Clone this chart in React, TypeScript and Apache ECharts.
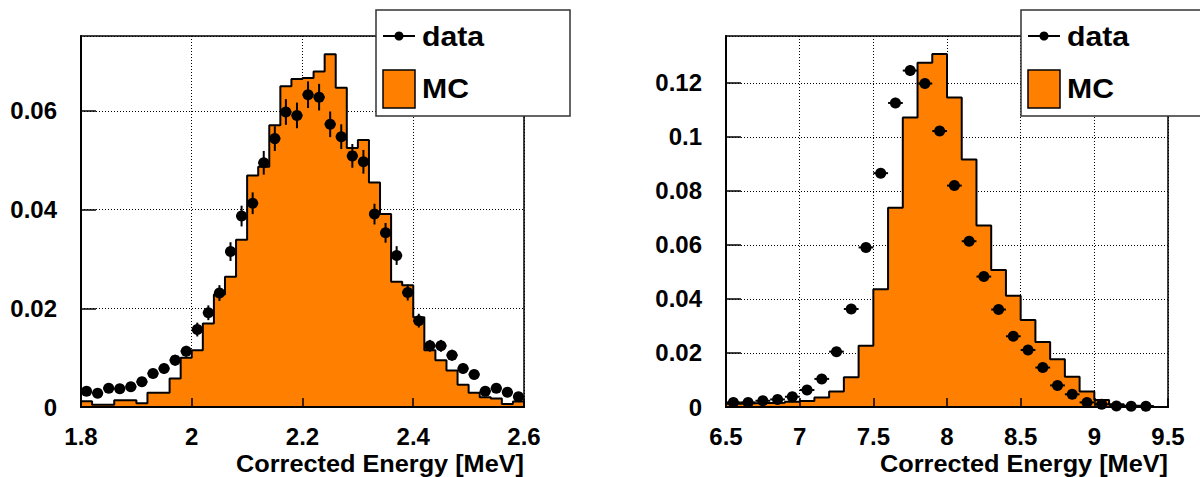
import React, { useEffect, useRef } from "react";
import * as echarts from "echarts";

// ---------- data ----------
const leftBinStart = 1.8;
const leftBinWidth = 0.02;
const leftData = [0.0032, 0.0028, 0.0038, 0.0037, 0.0041, 0.0051, 0.0068, 0.0078, 0.0095, 0.0113,
  0.0157, 0.0191, 0.0231, 0.0315, 0.0387, 0.0413, 0.0495, 0.0544, 0.0598, 0.0591,
  0.0633, 0.0628, 0.0573, 0.0548, 0.0509, 0.0497, 0.0391, 0.0353, 0.0307, 0.0232,
  0.0175, 0.0124, 0.0124, 0.0105, 0.0078, 0.0066, 0.0032, 0.0038, 0.0030, 0.0021];
const leftDataErr = [0.0006, 0.0006, 0.0007, 0.0007, 0.0007, 0.0008, 0.0009, 0.0010, 0.0011, 0.0011,
  0.0014, 0.0015, 0.0016, 0.0019, 0.0021, 0.0022, 0.0024, 0.0025, 0.0026, 0.0026,
  0.0027, 0.0027, 0.0026, 0.0025, 0.0024, 0.0024, 0.0021, 0.0020, 0.0019, 0.0016,
  0.0014, 0.0012, 0.0012, 0.0011, 0.0010, 0.0009, 0.0006, 0.0007, 0.0006, 0.0005];
const leftMC = [0.00115, 0.00047, 0.00047, 0.00136, 0.00136, 0.00075, 0.0029, 0.0029, 0.0058, 0.0100,
  0.0115, 0.0169, 0.0228, 0.0264, 0.0339, 0.0469, 0.0487, 0.0571, 0.0650, 0.0665,
  0.0667, 0.0680, 0.0715, 0.0647, 0.0525, 0.0541, 0.0455, 0.0391, 0.0254, 0.0247,
  0.0182, 0.0115, 0.0095, 0.0074, 0.0045, 0.0029, 0.0020, 0.0017, 0.0006, 0.0011];

const rightBinStart = 6.5;
const rightBinWidth = 0.1;
const rightData = [0.0017, 0.0017, 0.0023, 0.0028, 0.0038, 0.0063, 0.0104, 0.0205, 0.0363, 0.0591,
  0.0866, 0.1126, 0.1246, 0.1198, 0.1022, 0.0820, 0.0614, 0.0483, 0.0361, 0.0262,
  0.0211, 0.0146, 0.0080, 0.0047, 0.0017, 0.0010, 0.0004, 0.0003, 0.0003];
const rightDataErr = [0.0003, 0.0003, 0.0003, 0.0004, 0.0004, 0.0005, 0.0006, 0.0008, 0.0011, 0.0014,
  0.0017, 0.0019, 0.0020, 0.0020, 0.0018, 0.0016, 0.0014, 0.0012, 0.0011, 0.0009,
  0.0008, 0.0007, 0.0005, 0.0004, 0.0003, 0.0002, 0.0001, 0.0001, 0.0001];
const rightMC = [0.0012, 0.0014, 0.0015, 0.0016, 0.0019, 0.0022, 0.0035, 0.0057, 0.0110, 0.0227,
  0.0436, 0.0738, 0.1072, 0.1275, 0.1307, 0.1146, 0.0917, 0.0672, 0.0507, 0.0412,
  0.0322, 0.0241, 0.0177, 0.0112, 0.0057, 0.0026, 0.0010, 0.0005, 0.0004, 0.0000];

const xTitle = "Corrected Energy [MeV]";
const legendLabels = ["data", "MC"];

// ---------- helpers ----------
const ORANGE = "#ff8000";
const FONT = "'Liberation Sans', Arial, Helvetica, sans-serif";

function histPoints(start: number, width: number, vals: number[]) {
  const pts: number[][] = [[start, 0]];
  vals.forEach((v, i) => pts.push([start + i * width, v]));
  const end = start + vals.length * width;
  pts.push([end, vals[vals.length - 1]]);
  pts.push([end, 0]);
  return pts;
}

function dataPoints(start: number, width: number, vals: number[], errs: number[]) {
  return vals.map((v, i) => [start + (i + 0.5) * width, v, errs[i], width / 2]);
}

function renderErr(_params: any, api: any) {
  const x = api.value(0);
  const y = api.value(1);
  const e = api.value(2);
  const hw = api.value(3);
  const c = api.coord([x, y]);
  const top = api.coord([x, y + e]);
  const bot = api.coord([x, Math.max(0, y - e)]);
  const l = api.coord([x - hw, y]);
  const r = api.coord([x + hw, y]);
  return {
    type: "group",
    children: [
      { type: "line", shape: { x1: c[0], y1: top[1], x2: c[0], y2: bot[1] }, style: { stroke: "#000", lineWidth: 2 } },
      { type: "line", shape: { x1: l[0], y1: c[1], x2: r[0], y2: c[1] }, style: { stroke: "#000", lineWidth: 2 } },
      { type: "circle", shape: { cx: c[0], cy: c[1], r: 5.5 }, style: { fill: "#000" } },
    ],
  };
}

const labelStyle = { color: "#000", fontWeight: "bold" as const, fontSize: 24, fontFamily: FONT };

function mainX(gridIndex: number, min: number, max: number, interval: number) {
  return {
    type: "value", gridIndex, min, max, interval, position: "bottom", z: 0,
    axisLine: { show: true, onZero: false, lineStyle: { color: "#000", width: 2 } },
    axisTick: { show: false },
    axisLabel: { ...labelStyle, margin: 17 },
    splitLine: { show: true, lineStyle: { color: "#000", width: 1, type: [1, 2] } },
  };
}
function overlayX(gridIndex: number, min: number, max: number, interval: number) {
  return {
    type: "value", gridIndex, min, max, interval, position: "bottom", z: 6,
    axisLine: { show: true, onZero: false, lineStyle: { color: "#000", width: 2 } },
    axisTick: { show: true, inside: true, length: 9, lineStyle: { color: "#000", width: 1.5 } },
    axisLabel: { show: false },
    splitLine: { show: false },
  };
}
function mainY(gridIndex: number, max: number) {
  return {
    type: "value", gridIndex, min: 0, max, interval: 0.02,
    axisLine: { show: true, onZero: false, lineStyle: { color: "#000", width: 2 } },
    axisTick: { show: true, inside: true, length: 15, lineStyle: { color: "#000", width: 1.5 } },
    axisLabel: { ...labelStyle, margin: 24, showMaxLabel: false },
    splitLine: { show: true, lineStyle: { color: "#000", width: 1, type: [1, 2] } },
  };
}

function legendGraphics(boxX: number) {
  const z = 100;
  const txt = { fill: "#000", fontWeight: "bold", fontSize: 27, fontFamily: FONT, verticalAlign: "middle", align: "left" };
  return [
    { type: "rect", z, shape: { x: boxX, y: 10, width: 1200 - boxX < 200 ? 200 : 194, height: 106 }, style: { fill: "#fff", stroke: "#333", lineWidth: 1.5 } },
    { type: "line", z: z + 1, shape: { x1: boxX + 7, y1: 36, x2: boxX + 39, y2: 36 }, style: { stroke: "#000", lineWidth: 2 } },
    { type: "circle", z: z + 1, shape: { cx: boxX + 23, cy: 36, r: 4.5 }, style: { fill: "#000" } },
    { type: "text", z: z + 1, x: boxX + 46, y: 37, scaleX: 1.12, style: { ...txt, text: legendLabels[0] } },
    { type: "rect", z: z + 1, shape: { x: boxX + 7, y: 70, width: 32, height: 38 }, style: { fill: ORANGE, stroke: "#000", lineWidth: 1.5 } },
    { type: "text", z: z + 1, x: boxX + 46, y: 89, scaleX: 1.12, style: { ...txt, text: legendLabels[1] } },
  ];
}

export default function App() {
  const ref = useRef<HTMLDivElement>(null);
  useEffect(() => {
    if (!ref.current) return;
    const chart = echarts.init(ref.current, null, { renderer: "svg" });
    const option: any = {
      animation: false,
      backgroundColor: "#fff",
      grid: [
        { left: 81, top: 36, width: 443, height: 371, show: true, borderColor: "#000", borderWidth: 1.5, backgroundColor: "transparent" },
        { left: 726, top: 36, width: 442, height: 371, show: true, borderColor: "#000", borderWidth: 1.5, backgroundColor: "transparent" },
      ],
      xAxis: [
        mainX(0, 1.8, 2.6, 0.2),
        overlayX(0, 1.8, 2.6, 0.2),
        mainX(1, 6.5, 9.5, 0.5),
        overlayX(1, 6.5, 9.5, 0.5),
      ],
      yAxis: [mainY(0, 0.0752), mainY(1, 0.1374)],
      series: [
        {
          type: "line", xAxisIndex: 0, yAxisIndex: 0, step: "end", symbol: "none",
          data: histPoints(leftBinStart, leftBinWidth, leftMC),
          lineStyle: { color: "#000", width: 2 }, areaStyle: { color: ORANGE, opacity: 1 },
        },
        {
          type: "custom", xAxisIndex: 0, yAxisIndex: 0, renderItem: renderErr,
          encode: { x: 0, y: 1 }, data: dataPoints(leftBinStart, leftBinWidth, leftData, leftDataErr), z: 5,
        },
        {
          type: "line", xAxisIndex: 2, yAxisIndex: 1, step: "end", symbol: "none",
          data: histPoints(rightBinStart, rightBinWidth, rightMC),
          lineStyle: { color: "#000", width: 2 }, areaStyle: { color: ORANGE, opacity: 1 },
        },
        {
          type: "custom", xAxisIndex: 2, yAxisIndex: 1, renderItem: renderErr,
          encode: { x: 0, y: 1 }, data: dataPoints(rightBinStart, rightBinWidth, rightData, rightDataErr), z: 5,
        },
      ],
      graphic: [
        ...legendGraphics(376),
        ...legendGraphics(1021),
        { type: "text", x: 524, y: 464, scaleX: 1.1, style: { text: xTitle, fill: "#000", fontWeight: "bold", fontSize: 23, fontFamily: FONT, align: "right", verticalAlign: "middle" } },
        { type: "text", x: 1168, y: 464, scaleX: 1.1, style: { text: xTitle, fill: "#000", fontWeight: "bold", fontSize: 23, fontFamily: FONT, align: "right", verticalAlign: "middle" } },
      ],
    };
    chart.setOption(option);
    return () => chart.dispose();
  }, []);
  return <div ref={ref} style={{ position: "absolute", left: 0, top: 0, width: 1200, height: 477 }} />;
}
